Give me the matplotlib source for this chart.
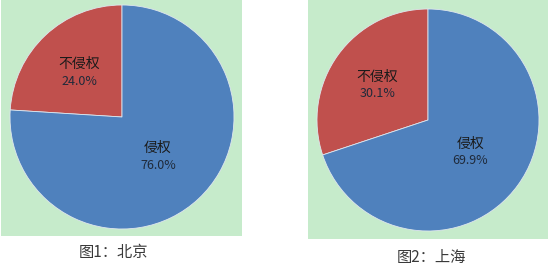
import matplotlib
matplotlib.use("Agg")
import matplotlib.pyplot as plt
import numpy as np

plt.rcParams['font.family'] = ['Noto Sans CJK SC', 'DejaVu Sans']

labels = ["不侵权", "侵权"]
beijing = [24.0, 76.0]
shanghai = [30.1, 69.9]
captions = ["图1：北京", "图2：上海"]
colors = ["#C0504D", "#4F81BD"]
panel_green = "#C6EBCB"

W, H = 549, 269
fig = plt.figure(figsize=(W / 100, H / 100), dpi=100)


def panel(x0, y0, w, h, values, cx, cy, r):
    # x0, y0 = top-left corner in pixels
    ax = fig.add_axes([x0 / W, 1 - (y0 + h) / H, w / W, h / H])
    ax.set_facecolor(panel_green)
    wedges, texts = ax.pie(values, colors=colors, startangle=90, counterclock=True,
                           center=(cx, h - cy), radius=r, frame=True,
                           wedgeprops=dict(edgecolor="#dfe6ee", linewidth=0.6))
    for wdg, lab, v in zip(wedges, labels, values):
        ang = np.deg2rad((wdg.theta1 + wdg.theta2) / 2)
        d = 0.56 if lab == "不侵权" else 0.47
        tx = cx + d * r * np.cos(ang)
        ty = h - cy + d * r * np.sin(ang)
        ax.text(tx, ty + 7, lab, ha="center", va="center", fontsize=10, color="#1a1a1a")
        ax.text(tx, ty - 10, f"{v:.1f}%", ha="center", va="center", fontsize=9,
                color="#1f2a3a")
    ax.set_xlim(0, w)
    ax.set_ylim(0, h)
    ax.set_aspect("auto")
    ax.set_xticks([])
    ax.set_yticks([])
    for s in ax.spines.values():
        s.set_visible(False)


panel(1, 0, 241, 236, beijing, 121, 117, 112)
panel(308, 0, 240, 239, shanghai, 120, 120, 111)

fig.text(113 / W, 1 - 253 / H, captions[0], ha="center", va="center",
         fontsize=11, color="#3a3a3a")
fig.text(431 / W, 1 - 257 / H, captions[1], ha="center", va="center",
         fontsize=11, color="#3a3a3a")

fig.savefig("out.png", dpi=100, facecolor="white")
